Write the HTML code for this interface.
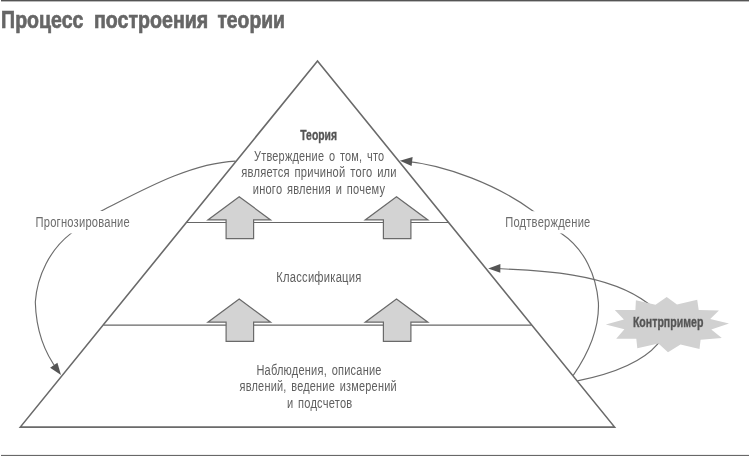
<!DOCTYPE html>
<html><head><meta charset="utf-8">
<style>
html,body{margin:0;padding:0;background:#fff;}
body{width:750px;height:456px;overflow:hidden;font-family:"Liberation Sans",sans-serif;}
svg{display:block;filter:grayscale(1);}
text{font-family:"Liberation Sans",sans-serif;}
.t{font-size:15.2px;fill:#606060;word-spacing:2px;letter-spacing:0.3px;}
.b{font-size:14.6px;font-weight:bold;fill:#555;stroke:#555;stroke-width:0.35px;}
</style></head><body>
<svg width="750" height="456" viewBox="0 0 750 456">
<rect x="0" y="0" width="750" height="456" fill="#fff"/>
<!-- top and bottom rules -->
<rect x="1" y="0" width="748" height="1.4" fill="#545454"/>
<rect x="1" y="454.9" width="748" height="1.1" fill="#686868"/>
<!-- title -->
<g font-size="24.5" font-weight="bold" fill="#666" stroke="#666" stroke-width="0.7">
<text x="1.1" y="27.6" textLength="82.3" lengthAdjust="spacingAndGlyphs">Процесс</text>
<text x="94" y="27.6" textLength="114.3" lengthAdjust="spacingAndGlyphs">построения</text>
<text x="217.4" y="27.6" textLength="67.6" lengthAdjust="spacingAndGlyphs">теории</text>
</g>

<!-- curves -->
<g fill="none" stroke="#6c6c6c" stroke-width="1.15">
<path id="cL" d="M235.5,161.1 C189.8,163.2 141.5,190.7 101.7,210.8 L99,212.2 M73.4,231.6 L71,233.4 C49.9,249.8 37.1,275.5 35.3,302 C36,327.3 42.9,351.1 58.5,371.2"/>
<path id="cR" d="M403,160.9 C446.5,164.9 498.2,185.4 533.3,211.2 L535.7,213 M558.9,231.7 L561.4,233.4 C584.5,248.9 596.4,275.5 598.4,302.5 C599.6,328.9 587.9,354 573.2,375.4"/>
<path id="cK1" d="M491,268.5 C538.7,270.2 607.9,272.5 647.8,303.3 L649.4,304.5"/>
<path id="cK2" d="M659,342.4 L657.6,344.1 C640.1,364.6 603.4,375.6 577.4,380.9"/>
</g>
<!-- label gaps -->
<rect x="30" y="211" width="105" height="22.4" fill="#fff"/>
<rect x="500" y="211.2" width="95" height="22.2" fill="#fff"/>
<!-- arrowheads -->
<g fill="#555">
<polygon points="61,374.9 50.1,367.7 57.4,362.7"/>
<polygon points="399.9,160.8 412.6,157.1 411.6,166.1"/>
<polygon points="488.2,268.4 500.4,263.9 500.3,272.8"/>
</g>

<!-- pyramid -->
<g fill="none" stroke="#6a6a6a" stroke-width="1.6" stroke-linejoin="miter">
<polygon points="317.5,60.9 614.6,427.1 20.3,427.1"/>
</g>
<g stroke="#666" stroke-width="1.2">
<line x1="186.5" y1="222.5" x2="448.5" y2="222.5"/>
<line x1="103.5" y1="325.2" x2="531.5" y2="325.2"/>
</g>
<!-- block arrows -->
<g fill="#d3d3d3" stroke="#6a6a6a" stroke-width="1.2" stroke-linejoin="miter">
<polygon points="239.2,196.7 270.6,219.9 253.6,219.9 253.6,238.7 226.1,238.7 226.1,219.9 207.9,219.9"/>
<polygon points="396.5,196.7 427.9,219.9 410.9,219.9 410.9,238.7 383.4,238.7 383.4,219.9 365.2,219.9"/>
<polygon points="239.2,299.1 270.6,322.2 253.6,322.2 253.6,341.4 226.1,341.4 226.1,322.2 207.9,322.2"/>
<polygon points="396.5,299.1 427.9,322.2 410.9,322.2 410.9,341.4 383.4,341.4 383.4,322.2 365.2,322.2"/>
</g>

<!-- starburst -->
<polygon fill="#d1d1d1" points="666.7,297.1 677,304.5 697.2,299.7 698.7,309.9 718.9,310.5 710.2,319 729,323.4 711.3,329.4 721.8,337.9 700.6,339.7 699.5,348.9 680.5,344.5 668,352.2 658.4,343.5 637.3,348.3 636.3,338.7 616.2,338.7 624.4,329.3 605.8,324.4 623.9,319.6 614.8,309.9 635.4,309.9 635.9,300.3 655.5,304.7"/>

<!-- texts -->
<text class="b" x="300.3" y="139.9" textLength="36.7" lengthAdjust="spacingAndGlyphs">Теория</text>
<text class="t" x="254" y="160.6" textLength="130.3" lengthAdjust="spacingAndGlyphs">Утверждение о том, что</text>
<text class="t" x="241.3" y="176.8" textLength="155.5" lengthAdjust="spacingAndGlyphs">является причиной того или</text>
<text class="t" x="252.8" y="193.8" textLength="132.4" lengthAdjust="spacingAndGlyphs">иного явления и почему</text>
<text class="t" x="276.3" y="281.5" textLength="85.2" lengthAdjust="spacingAndGlyphs">Классификация</text>
<text class="t" x="256.4" y="374.5" textLength="125.3" lengthAdjust="spacingAndGlyphs">Наблюдения, описание</text>
<text class="t" x="239.6" y="390.8" textLength="157.2" lengthAdjust="spacingAndGlyphs">явлений, ведение измерений</text>
<text class="t" x="286.9" y="407.9" textLength="65.5" lengthAdjust="spacingAndGlyphs">и подсчетов</text>
<text class="t" style="fill:#6c6c6c" x="35.5" y="227.2" textLength="94.5" lengthAdjust="spacingAndGlyphs">Прогнозирование</text>
<text class="t" style="fill:#6c6c6c" x="505.2" y="227.0" textLength="85.3" lengthAdjust="spacingAndGlyphs">Подтверждение</text>
<text class="b" x="632.9" y="327.4" font-size="16.3" textLength="70.5" lengthAdjust="spacingAndGlyphs">Контрпример</text>
</svg>
</body></html>
